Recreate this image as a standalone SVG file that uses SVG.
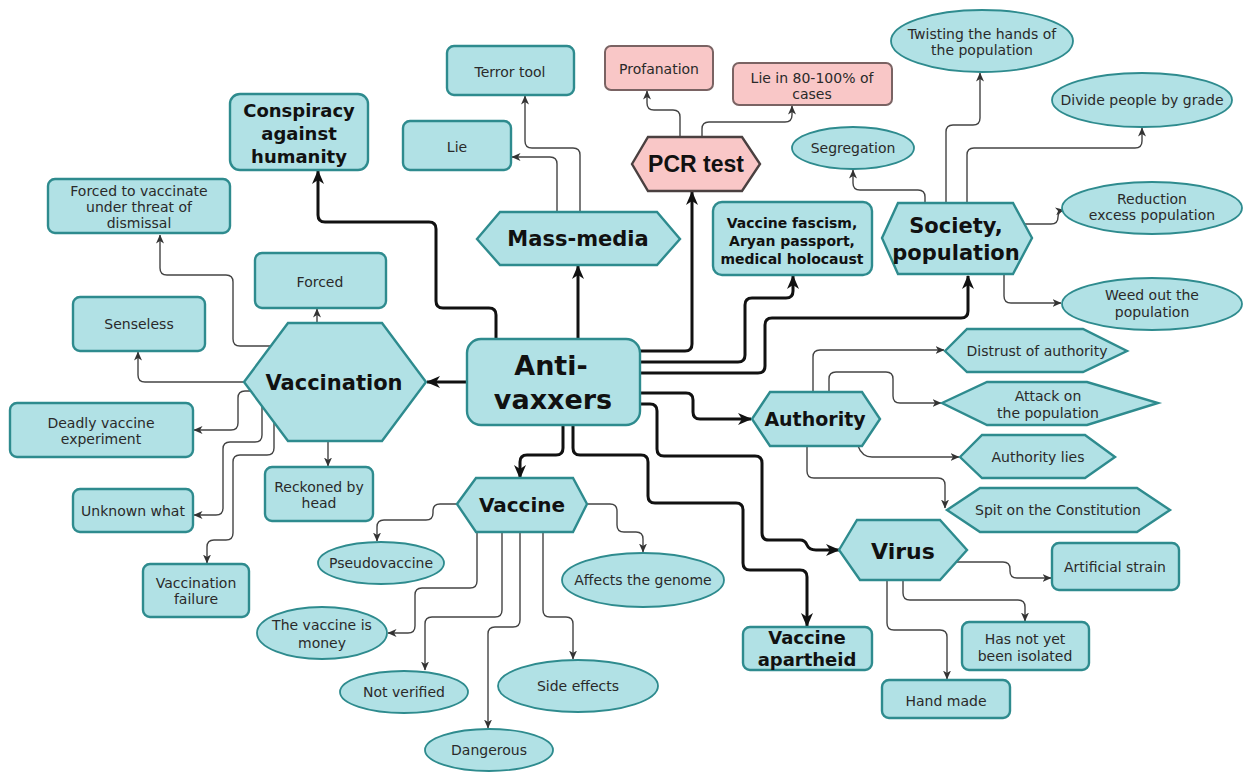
<svg xmlns="http://www.w3.org/2000/svg" width="1245" height="772" viewBox="0 0 1245 772">
<style>
.n{fill:#b1e1e5;stroke:#2e8b8e;stroke-width:2.4}
.e{fill:#b1e1e5;stroke:#2e8b8e;stroke-width:1.8}
.p{fill:#f9c7c7;stroke:#7a6363;stroke-width:2}
.t{font-family:"DejaVu Sans",Verdana,sans-serif;font-size:14px;fill:#2a2a2a;text-anchor:middle}
.b{font-weight:bold;fill:#111}
.thick{fill:none;stroke:#111;stroke-width:3;marker-end:url(#ah)}
.thin{fill:none;stroke:#444;stroke-width:1.4;marker-end:url(#as)}
</style>
<defs>
<marker id="ah" viewBox="0 0 14 12" refX="13" refY="6" markerWidth="14" markerHeight="12" orient="auto" markerUnits="userSpaceOnUse"><path d="M0,0 L14,6 L0,12 L4,6 z" fill="#111"/></marker>
<marker id="as" viewBox="0 0 9 8" refX="8.5" refY="4" markerWidth="9" markerHeight="8" orient="auto" markerUnits="userSpaceOnUse"><path d="M0,0 L9,4 L0,8 L2.5,4 z" fill="#333"/></marker>
</defs>
<rect width="1245" height="772" fill="#fff"/>

<g id="connectors">
<path class="thick" d="M496,339 V315 Q496,308 489,308 H443 Q436,308 436,301 V229 Q436,222 429,222 H325 Q318,222 318,215 V171"/>
<path class="thick" d="M578,339 V266"/>
<path class="thick" d="M640,351 H685 Q692,351 692,344 V192"/>
<path class="thick" d="M640,362 H738 Q745,362 745,355 V305 Q745,298 752,298 H786 Q793,298 793,291 V276"/>
<path class="thick" d="M640,373 H758 Q765,373 765,366 V325 Q765,318 772,318 H961 Q968,318 968,311 V276"/>
<path class="thick" d="M640,393 H686 Q693,393 693,400 V412 Q693,419 700,419 H751"/>
<path class="thick" d="M640,404 H650 Q657,404 657,411 V449 Q657,456 664,456 H755 Q762,456 762,463 V533 Q762,540 769,540 H800 Q805,540 807,545 Q809,550 816,550 H839"/>
<path class="thick" d="M573,425 V448 Q573,455 580,455 H641 Q648,455 648,462 V496 Q648,503 655,503 H736 Q743,503 743,510 V563 Q743,570 750,570 H800 Q807,570 807,577 V626"/>
<path class="thick" d="M563,425 V448 Q563,455 556,455 H527 Q520,455 520,462 V478"/>
<path class="thick" d="M467,382 H427"/>

<path class="thin" d="M317,323 V309"/>
<path class="thin" d="M270,346 H240 Q233,346 233,339 V282 Q233,275 226,275 H167 Q160,275 160,268 V235"/>
<path class="thin" d="M244,382 H145 Q138,382 138,375 V352"/>
<path class="thin" d="M250,391 H245 Q238,391 238,398 V423 Q238,430 231,430 H194"/>
<path class="thin" d="M262,407 V435 Q262,442 255,442 H230 Q223,442 223,449 V508 Q223,515 216,515 H194"/>
<path class="thin" d="M274,422 V448 Q274,455 267,455 H240 Q233,455 233,462 V533 Q233,540 226,540 H214 Q207,540 207,547 V563"/>
<path class="thin" d="M328,441 V466"/>

<path class="thin" d="M557,212 V164 Q557,157 550,157 H512"/>
<path class="thin" d="M580,212 V155 Q580,148 573,148 H532 Q525,148 525,141 V96"/>

<path class="thin" d="M680,137 V117 Q680,110 673,110 H654 Q647,110 647,103 V91"/>
<path class="thin" d="M702,137 V129 Q702,122 709,122 H785 Q792,122 792,115 V106"/>

<path class="thin" d="M925,203 V197 Q925,190 918,190 H860 Q853,190 853,183 V170"/>
<path class="thin" d="M946,203 V132 Q946,125 953,125 H973 Q980,125 980,118 V73"/>
<path class="thin" d="M967,203 V155 Q967,148 974,148 H1135 Q1142,148 1142,141 V128"/>
<path class="thin" d="M1025,224 H1051 Q1058,224 1058,217 Q1058,211 1064,210"/>
<path class="thin" d="M1004,274 V296 Q1004,303 1011,303 H1061"/>

<path class="thin" d="M813,392 V357 Q813,350 820,350 H944"/>
<path class="thin" d="M829,392 V379 Q829,372 836,372 H886 Q893,372 893,379 V396 Q893,403 900,403 H941"/>
<path class="thin" d="M858,446 Q862,457 872,457 H959"/>
<path class="thin" d="M807,446 V471 Q807,478 814,478 H938 Q945,478 945,485 V508"/>

<path class="thin" d="M955,562 H1003 Q1010,562 1010,569 V571 Q1010,578 1017,578 H1051"/>
<path class="thin" d="M903,580 V593 Q903,600 910,600 H1018 Q1025,600 1025,607 V621"/>
<path class="thin" d="M887,580 V623 Q887,630 894,630 H940 Q947,630 947,637 V679"/>

<path class="thin" d="M457,504 H440 Q433,504 433,511 V513 Q433,520 426,520 H384 Q377,520 377,527 V541"/>
<path class="thin" d="M587,504 H610 Q617,504 617,511 V525 Q617,532 624,532 H636 Q643,532 643,539 V552"/>
<path class="thin" d="M477,532 V581 Q477,588 470,588 H422 Q415,588 415,595 V626 Q415,633 408,633 H388"/>
<path class="thin" d="M502,532 V610 Q502,617 495,617 H432 Q425,617 425,624 V670"/>
<path class="thin" d="M520,532 V620 Q520,627 513,627 H495 Q488,627 488,634 V728"/>
<path class="thin" d="M543,532 V610 Q543,617 550,617 H566 Q573,617 573,624 V659"/>
</g>

<g id="n-conspiracy"><rect class="n" x="230" y="94" width="138" height="76" rx="10"/>
<text class="t b" style="font-size:18px" x="299" y="116.5">Conspiracy</text>
<text class="t b" style="font-size:18px" x="299" y="139.5">against</text>
<text class="t b" style="font-size:18px" x="299" y="163">humanity</text></g>

<g id="n-terror"><rect class="n" x="447" y="46" width="127" height="49" rx="7"/><text class="t" x="510" y="77">Terror tool</text></g>
<g id="n-lie"><rect class="n" x="403" y="121" width="108" height="49" rx="7"/><text class="t" x="457" y="152">Lie</text></g>
<g id="n-profanation"><rect class="p" x="605" y="46" width="108" height="44" rx="6"/><text class="t" x="659" y="74">Profanation</text></g>
<g id="n-lie80"><rect class="p" x="733" y="63" width="159" height="42" rx="6"/><text class="t" x="812" y="83">Lie in 80-100% of</text><text class="t" x="812" y="99">cases</text></g>
<g id="n-pcr"><polygon class="p" style="stroke:#4a4040;stroke-width:2.4" points="632,164 648,137 742,137 760,164 742,191 648,191"/><text class="t b" style="font-family:'Liberation Sans',Arial,sans-serif;font-size:23px" x="696" y="172">PCR test</text></g>
<g id="n-massmedia"><polygon class="n" points="477,239 500,212 657,212 680,239 657,265 500,265"/><text class="t b" style="font-size:21px" x="578" y="246">Mass-media</text></g>
<g id="n-fascism"><rect class="n" x="713" y="202" width="159" height="73" rx="9"/>
<text class="t b" style="font-size:14px" x="792" y="228">Vaccine fascism,</text>
<text class="t b" style="font-size:14px" x="792" y="246">Aryan passport,</text>
<text class="t b" style="font-size:14px" x="792" y="264">medical holocaust</text></g>

<g id="n-segregation"><ellipse class="e" cx="853" cy="148" rx="61" ry="21"/><text class="t" x="853" y="153">Segregation</text></g>
<g id="n-twisting"><ellipse class="e" cx="982" cy="41" rx="91" ry="31"/><text class="t" x="982" y="39">Twisting the hands of</text><text class="t" x="982" y="55">the population</text></g>
<g id="n-divide"><ellipse class="e" cx="1142" cy="100" rx="90" ry="27"/><text class="t" x="1142" y="105">Divide people by grade</text></g>
<g id="n-reduction"><ellipse class="e" cx="1152" cy="208" rx="90" ry="26"/><text class="t" x="1152" y="204">Reduction</text><text class="t" x="1152" y="220">excess population</text></g>
<g id="n-society"><polygon class="n" points="882,238 898,203 1013,203 1032,238 1013,274 898,274"/>
<text class="t b" style="font-size:21px" x="956" y="233">Society,</text><text class="t b" style="font-size:21px" x="956" y="260">population</text></g>
<g id="n-weed"><ellipse class="e" cx="1152" cy="304" rx="90" ry="26"/><text class="t" x="1152" y="300">Weed out the</text><text class="t" x="1152" y="317">population</text></g>

<g id="n-forcedvacc"><rect class="n" x="48" y="179" width="182" height="54" rx="7"/>
<text class="t" x="139" y="196">Forced to vaccinate</text><text class="t" x="139" y="212">under threat of</text><text class="t" x="139" y="228">dismissal</text></g>
<g id="n-forced"><rect class="n" x="255" y="253" width="131" height="55" rx="7"/><text class="t" x="320" y="287">Forced</text></g>
<g id="n-senseless"><rect class="n" x="73" y="297" width="132" height="54" rx="7"/><text class="t" x="139" y="329">Senseless</text></g>
<g id="n-vaccination"><polygon class="n" points="244,382 288,323 382,323 426,382 382,441 288,441"/><text class="t b" style="font-size:21px" x="334" y="390">Vaccination</text></g>
<g id="n-antivaxxers"><rect class="n" x="467" y="339" width="173" height="86" rx="14"/>
<text class="t b" style="font-size:27px" x="551" y="375">Anti-</text><text class="t b" style="font-size:27px" x="553" y="409">vaxxers</text></g>
<g id="n-deadly"><rect class="n" x="10" y="403" width="183" height="54" rx="7"/><text class="t" x="101" y="428">Deadly vaccine</text><text class="t" x="101" y="444">experiment</text></g>
<g id="n-reckoned"><rect class="n" x="265" y="467" width="108" height="54" rx="7"/><text class="t" x="319" y="492">Reckoned by</text><text class="t" x="319" y="508">head</text></g>
<g id="n-unknown"><rect class="n" x="73" y="489" width="120" height="43" rx="7"/><text class="t" x="133" y="516">Unknown what</text></g>
<g id="n-vfailure"><rect class="n" x="143" y="564" width="106" height="53" rx="7"/><text class="t" x="196" y="588">Vaccination</text><text class="t" x="196" y="604">failure</text></g>

<g id="n-authority"><polygon class="n" points="752,419 770,392 862,392 880,419 862,446 770,446"/><text class="t b" style="font-size:19px" x="815" y="426">Authority</text></g>
<g id="n-distrust"><polygon class="n" points="945,351 967,329 1083,329 1127,351 1083,372 967,372"/><text class="t" x="1037" y="356">Distrust of authority</text></g>
<g id="n-attack"><polygon class="n" points="942,403 987,382 1087,382 1158,403 1087,425 987,425"/><text class="t" x="1048" y="401">Attack on</text><text class="t" x="1048" y="418">the population</text></g>
<g id="n-authlies"><polygon class="n" points="960,457 982,435 1085,435 1115,457 1085,478 982,478"/><text class="t" x="1038" y="462">Authority lies</text></g>
<g id="n-spit"><polygon class="n" points="947,510 980,488 1137,488 1170,510 1137,532 980,532"/><text class="t" x="1058" y="515">Spit on the Constitution</text></g>

<g id="n-virus"><polygon class="n" points="839,550 857,520 940,520 967,550 940,580 860,580"/><text class="t b" style="font-size:22px" x="903" y="559">Virus</text></g>
<g id="n-artificial"><rect class="n" x="1052" y="543" width="127" height="47" rx="7"/><text class="t" x="1115" y="572">Artificial strain</text></g>
<g id="n-hasnot"><rect class="n" x="962" y="622" width="127" height="48" rx="7"/><text class="t" x="1025" y="644">Has not yet</text><text class="t" x="1025" y="661">been isolated</text></g>
<g id="n-handmade"><rect class="n" x="882" y="680" width="128" height="38" rx="7"/><text class="t" x="946" y="706">Hand made</text></g>
<g id="n-apartheid"><rect class="n" x="743" y="627" width="129" height="43" rx="7"/>
<text class="t b" style="font-size:18px" x="807" y="644">Vaccine</text><text class="t b" style="font-size:18px" x="807" y="666">apartheid</text></g>

<g id="n-vaccine"><polygon class="n" points="457,504 476,478 573,478 587,504 573,532 476,532"/><text class="t b" style="font-size:20px" x="522" y="512">Vaccine</text></g>
<g id="n-pseudo"><ellipse class="e" cx="381" cy="563" rx="63" ry="21"/><text class="t" x="381" y="568">Pseudovaccine</text></g>
<g id="n-affects"><ellipse class="e" cx="643" cy="580" rx="81" ry="27"/><text class="t" x="643" y="585">Affects the genome</text></g>
<g id="n-money"><ellipse class="e" cx="322" cy="633" rx="65" ry="26"/><text class="t" x="322" y="630">The vaccine is</text><text class="t" x="322" y="648">money</text></g>
<g id="n-notverified"><ellipse class="e" cx="404" cy="692" rx="64" ry="21"/><text class="t" x="404" y="697">Not verified</text></g>
<g id="n-side"><ellipse class="e" cx="578" cy="686" rx="80" ry="26"/><text class="t" x="578" y="691">Side effects</text></g>
<g id="n-dangerous"><ellipse class="e" cx="489" cy="750" rx="64" ry="21"/><text class="t" x="489" y="755">Dangerous</text></g>
</svg>
